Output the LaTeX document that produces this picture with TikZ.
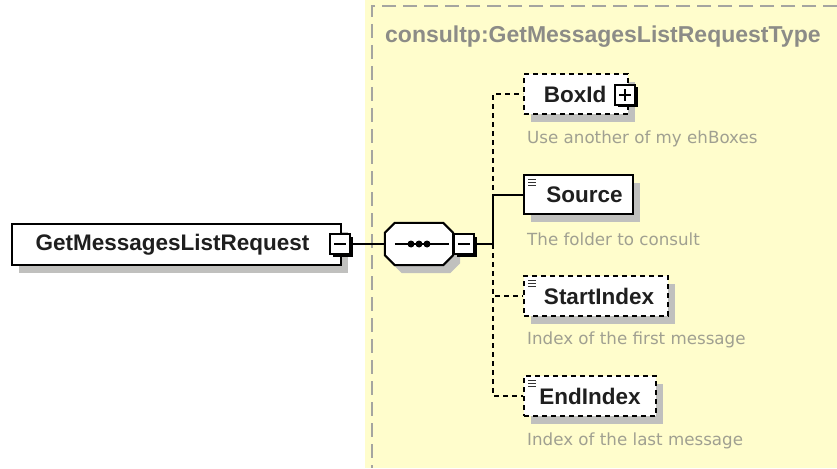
\documentclass[tikz,border=0pt]{standalone}
\usepackage{fontspec}
\setmainfont{Liberation Sans}
\newfontfamily\descfont{DejaVu Sans}
\usetikzlibrary{shadows}
\definecolor{ylw}{RGB}{255,253,204}
\definecolor{bordergray}{RGB}{165,165,160}
\definecolor{titlegray}{RGB}{140,140,135}
\definecolor{descgray}{RGB}{160,160,145}
\definecolor{shadowgray}{RGB}{192,192,190}
\begin{document}
\begin{tikzpicture}[x=1pt,y=-1pt,
  shadebox/.style={drop shadow={shadow xshift=7pt,shadow yshift=-8pt,fill=shadowgray,opacity=1}},
  elembox/.style={draw=black,line width=2pt,fill=white,inner sep=0pt,anchor=north west,
    font=\bfseries\fontsize{22.5}{26}\selectfont,text=black!88,shadebox},
  optbox/.style={elembox,dash pattern=on 5pt off 4pt},
  listicon/.style={path picture={\foreach \k in {4,7,10}
    \draw[solid,line width=0.9pt,black!80] ([xshift=4pt,yshift=-\k pt]path picture bounding box.north west) -- ++(8,0);}},
  pmbox/.style={draw=black,solid,line width=1.5pt,fill=white,minimum size=20pt,inner sep=0pt,
    drop shadow={shadow xshift=2.5pt,shadow yshift=-2.5pt,fill=black,opacity=1}},
  minus/.style={pmbox,path picture={\draw[line width=1.2pt]
    ([xshift=4pt]path picture bounding box.west) -- ([xshift=-4pt]path picture bounding box.east);}},
  plus/.style={pmbox,path picture={\draw[line width=1.2pt]
    ([xshift=4pt]path picture bounding box.west) -- ([xshift=-4pt]path picture bounding box.east)
    ([yshift=4pt]path picture bounding box.south) -- ([yshift=-4pt]path picture bounding box.north);}},
  conn/.style={draw=black,line width=2pt},
  optconn/.style={conn,dash pattern=on 5pt off 4pt},
  desc/.style={anchor=west,inner sep=0pt,font=\descfont\fontsize{16.7}{20}\selectfont,text=descgray},
]
\useasboundingbox (0,0) rectangle (837,468);
% type area
\fill[ylw] (365,0) rectangle (837,468);
\draw[bordergray,line width=2pt,dash pattern=on 14pt off 7pt] (837,6) -- (372,6) -- (372,468);
\node[anchor=base west,inner sep=0pt,font=\bfseries\fontsize{23}{27}\selectfont,text=titlegray] (title) at (385,43) {consultp:GetMessagesListRequestType};

% root element
\node[elembox,minimum width=329pt,minimum height=41pt] (root) at (11,223) {GetMessagesListRequest\hspace*{8pt}};
\node[minus] (rootm) at (340,244) {};

% sequence compositor
\node[minimum width=68pt,minimum height=42pt,inner sep=0pt] (seq) at (419,244) {};
\path[draw=black,line width=2pt,fill=white,shadebox]
  ([xshift=10pt]seq.north west) -- ([xshift=-10pt]seq.north east) -- ([yshift=-10pt]seq.north east)
  -- ([yshift=10pt]seq.south east) -- ([xshift=-10pt]seq.south east) -- ([xshift=10pt]seq.south west)
  -- ([yshift=10pt]seq.south west) -- ([yshift=-10pt]seq.north west) -- cycle;
\draw[line width=2pt] ([xshift=10pt]seq.west) -- ([xshift=-4pt]seq.east);
\foreach \d in {-8,0,8} \fill ([xshift=\d pt]seq.center) circle (3.5);
\node[minus] (seqm) at (464,244) {};

% children
\node[optbox,minimum width=104pt,minimum height=40pt] (boxid) at (523,73) {BoxId\hspace*{2pt}};
\node[plus] (boxidp) at (625,95) {};
\node[elembox,listicon,minimum width=109pt,minimum height=39pt] (source) at (523,174) {\hspace*{12pt}Source};
\node[optbox,listicon,minimum width=144pt,minimum height=40pt] (start) at (523,275) {\hspace*{6pt}StartIndex};
\node[optbox,listicon,minimum width=132pt,minimum height=40pt] (end) at (523,375) {EndIndex};

\node[desc] (d1) at (527,139) {Use another of my ehBoxes};
\node[desc] (d2) at (527,239) {The folder to consult};
\node[desc] (d3) at (527,340) {Index of the first message};
\node[desc] (d4) at (527,441) {Index of the last message};

% connectors
\coordinate (jn) at (493,244);
\draw[conn] (rootm.east) -- (seq.west);
\draw[conn] (seqm.east) -- (jn);
\draw[conn] (jn) |- (source.west);
\draw[optconn] (jn) |- (boxid.west);
\draw[optconn] (jn) |- (start.west);
\draw[optconn] (jn) |- (end.west);
\end{tikzpicture}
\end{document}
